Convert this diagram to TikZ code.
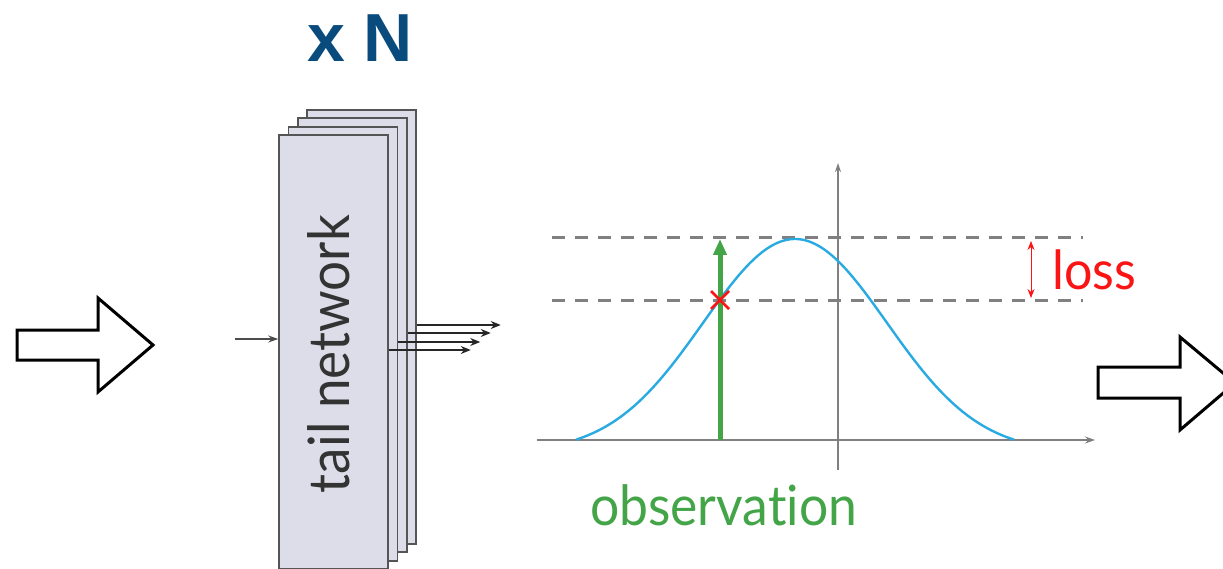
\documentclass[tikz,border=0pt]{standalone}
\usepackage{fontspec}
\usetikzlibrary{arrows.meta}
\newfontfamily\latofont[FakeStretch=0.93,Ligatures={NoCommon}]{Lato}
\newfontfamily\headfont{Liberation Sans}
\definecolor{boxfill}{RGB}{221,221,233}
\definecolor{boxline}{RGB}{85,85,85}
\definecolor{curveblue}{RGB}{41,171,226}
\definecolor{obsgreen}{RGB}{67,165,72}
\definecolor{lossred}{RGB}{250,20,20}
\definecolor{headblue}{RGB}{10,75,125}
\definecolor{axisgray}{RGB}{128,128,128}
\begin{document}
\begin{tikzpicture}[x=1pt,y=-1pt,
  blockarrow/.style={draw=black,line width=3pt,fill=white,miter limit=10},
  netbox/.style={draw=boxline,fill=boxfill,line width=1.5pt,inner sep=0pt,
    minimum width=109pt,minimum height=434pt},
  outarrow/.style={draw=black!85,line width=1.6pt,-{Stealth[length=10pt,width=8pt]}},
  inarrow/.style={draw=black!70,line width=1.4pt,-{Stealth[length=10pt,width=7pt]}},
  axis/.style={draw=axisgray,line width=1.3pt},
  guide/.style={draw=axisgray,line width=3pt,dash pattern=on 13pt off 10pt},
]
\useasboundingbox (0,0) rectangle (1223,569);

% block arrows
\draw[blockarrow] (17,330) -- (98,330) -- (98,298) -- (153,345) -- (98,392) -- (98,360) -- (17,360) -- cycle;
\draw[blockarrow] (1098,367) -- (1180,367) -- (1180,337) -- (1235,383) -- (1180,430) -- (1180,398) -- (1098,398) -- cycle;

% header
\node[text=headblue,font=\headfont\bfseries\fontsize{68}{70}\selectfont] (hdr) at (360,38) {x N};

% stacked boxes
\node[netbox] (b4) at (361.5,327) {};
\node[netbox] (b3) at (352.5,335) {};
\node[netbox] (b2) at (343,344) {};
\node[netbox] (b1) at (333.5,352) {};
\node[rotate=90,text=black!80,font=\latofont\fontsize{57}{60}\selectfont] (tn) at (329,354) {tail network};

% input arrow
\coordinate (inStart) at (235,339);
\draw[inarrow] (inStart) -- (inStart -| b1.west);

% output arrows
\draw[outarrow] ([yshift=2pt]b4.east) -- ++(84,0);
\draw[outarrow] ([yshift=2pt]b3.east) -- ++(83,0);
\draw[outarrow] ([yshift=2pt]b2.east) -- ++(82,0);
\draw[outarrow] ([yshift=2pt]b1.east) -- ++(82,0);

% chart
\coordinate (xa0) at (537,440);
\coordinate (xa1) at (1095,440);
\coordinate (ya0) at (838,470);
\coordinate (ya1) at (838,163);
\draw[guide] (552,238) -- (1083,238);
\draw[guide] (552,300) -- (1083,300);
\draw[axis,line width=2pt,-{Stealth[length=10pt,width=7pt]}] (xa0) -- (xa1);
\draw[axis,-{Stealth[length=9pt,width=6pt]}] (ya0) -- (ya1);
\draw[curveblue,line width=2.4pt] plot[domain=-219:219,samples=120,smooth]
  ({795+\x},{440-201*(exp(-((\x/92)^2)/2)-0.0573)/0.9427});
\coordinate (obsBase) at (720,440);
\coordinate (obsTop) at (720,239);
\draw[obsgreen,line width=5pt,-{Triangle[length=16pt,width=13pt]}] (obsBase) -- (obsTop);
\coordinate (pred) at (720,300);
\draw[lossred,line width=2.5pt] ([shift={(-9,-9)}]pred) -- ([shift={(9,9)}]pred)
  ([shift={(-9,9)}]pred) -- ([shift={(9,-9)}]pred);
\coordinate (lossTop) at (1031,241);
\coordinate (lossBot) at (1031,298);
\draw[lossred,line width=1pt,{Stealth[length=9pt,width=7pt]}-{Stealth[length=9pt,width=7pt]}] (lossTop) -- (lossBot);
\node[anchor=base west,inner sep=0pt,text=lossred,font=\latofont\fontsize{54}{56}\selectfont] (loss) at (1052,290) {loss};
\node[anchor=base west,inner sep=0pt,text=obsgreen,font=\latofont\fontsize{55.5}{58}\selectfont] (obs) at (590,525) {observation};
\end{tikzpicture}
\end{document}
